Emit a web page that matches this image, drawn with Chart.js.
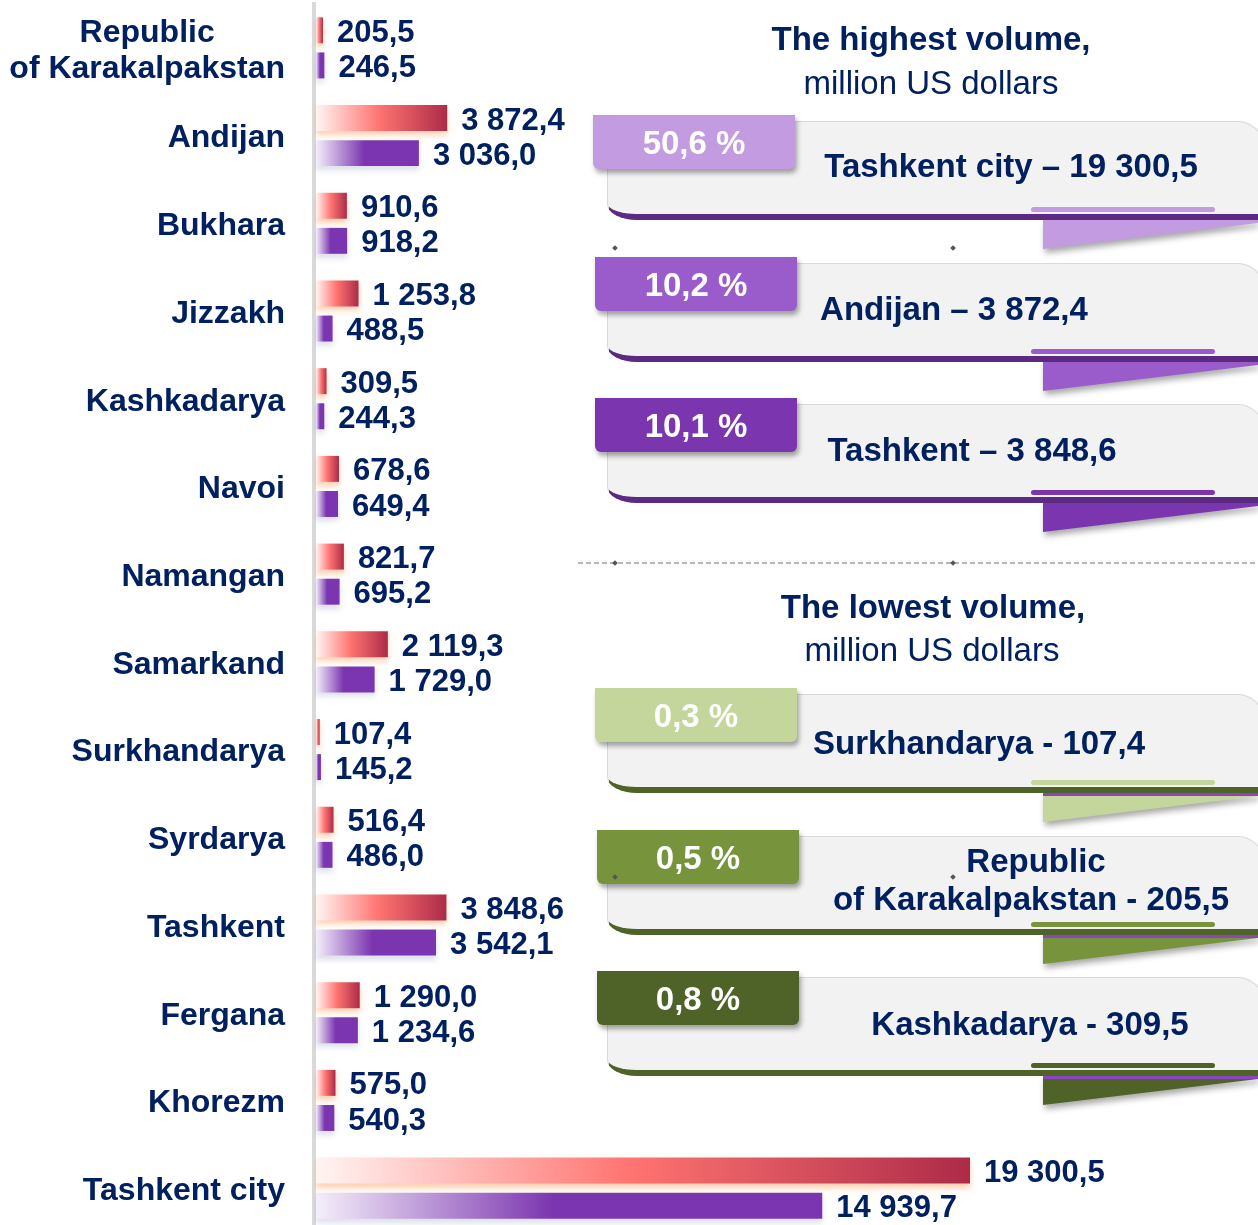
<!DOCTYPE html>
<html>
<head>
<meta charset="utf-8">
<script src="https://cdn.jsdelivr.net/npm/chart.js@4.4.1/dist/chart.umd.min.js"></script>
<style>
  html, body { margin: 0; padding: 0; background: #fff; overflow: hidden; }
  #wrap { position: relative; width: 1258px; height: 1232px; font-family: "Liberation Sans", Arial, sans-serif; }
  #regionChart { position: absolute; left: 0; top: 0; }
  .t { position: absolute; transform: translate(-50%, -50%); white-space: nowrap; line-height: 1;
       color: #002060; font-size: 33px; font-weight: bold; z-index: 5; }
  .t.reg { font-weight: normal; }
  .tab { position: absolute; width: 202px; height: 54px; border-radius: 0 0 6px 6px;
         box-shadow: 2px 4px 5px rgba(0,0,0,0.35); z-index: 4; color: #fff; font-size: 33px; font-weight: bold;
         display: flex; align-items: center; justify-content: center; line-height: 1; }
  .card { position: absolute; left: 607px; width: 655px; height: 92px; background: #f2f2f2;
          border: 1px solid #d9d9d9; border-bottom: 6px solid; border-radius: 0 26px 0 30px / 0 26px 0 16px; z-index: 2; }
  .pill { position: absolute; left: 1031px; width: 184px; height: 5px; border-radius: 3px; z-index: 3; }
  .rib { position: absolute; left: 1043px; width: 215px; height: 29px; z-index: 1;
         filter: drop-shadow(2px 4px 3px rgba(0,0,0,0.35)); }
  .rib div { width: 100%; height: 100%; clip-path: polygon(0 0, 100% 0, 100% 10%, 0 100%); }
  .dash { position: absolute; left: 578px; top: 562px; width: 680px; height: 2px;
          background: repeating-linear-gradient(to right, #b8b8b8 0 5px, transparent 5px 8px); }
  .mk { position: absolute; width: 4px; height: 4px; background: #555; transform: translate(-50%, -50%) rotate(45deg); z-index: 6; }
</style>
</head>
<body>
<div id="wrap">
  <canvas id="regionChart" width="1258" height="1232"></canvas>

  <div class="t" style="left:931px;top:38px">The highest volume,</div>
  <div class="t reg" style="left:931px;top:82px">million US dollars</div>

  <div class="card" style="top:121px;border-bottom-color:#5c2a82"></div>
  <div class="pill" style="top:207px;background:#c39be0"></div>
  <div class="rib" style="top:220px"><div style="background:#c39be0"></div></div>
  <div class="tab" style="left:593px;top:115px;background:#c39be0">50,6 %</div>
  <div class="t" style="left:1011px;top:165px">Tashkent city – 19 300,5</div>

  <div class="card" style="top:263px;border-bottom-color:#5c2a82"></div>
  <div class="pill" style="top:349px;background:#9b5ccb"></div>
  <div class="rib" style="top:362px"><div style="background:#9b5ccb"></div></div>
  <div class="tab" style="left:595px;top:257px;background:#9b5ccb">10,2 %</div>
  <div class="t" style="left:954px;top:308px">Andijan – 3 872,4</div>

  <div class="card" style="top:404px;border-bottom-color:#5c2a82"></div>
  <div class="pill" style="top:490px;background:#7b36af"></div>
  <div class="rib" style="top:503px"><div style="background:#7b36af"></div></div>
  <div class="tab" style="left:595px;top:398px;background:#7b36af">10,1 %</div>
  <div class="t" style="left:972px;top:449px">Tashkent – 3 848,6</div>

  <div class="dash"></div>

  <div class="t" style="left:933px;top:606px">The lowest volume,</div>
  <div class="t reg" style="left:932px;top:649px">million US dollars</div>

  <div class="card" style="top:694px;border-bottom-color:#4f6228"></div>
  <div class="pill" style="top:780px;background:#c4d69b"></div>
  <div class="rib" style="top:793px"><div style="background:linear-gradient(#8b45c2 0 3px, #c4d69b 3px)"></div></div>
  <div class="tab" style="left:595px;top:688px;background:#c4d69b">0,3 %</div>
  <div class="t" style="left:979px;top:742px">Surkhandarya - 107,4</div>

  <div class="card" style="top:836px;border-bottom-color:#4f6228"></div>
  <div class="pill" style="top:922px;background:#77933c"></div>
  <div class="rib" style="top:935px"><div style="background:linear-gradient(#8b45c2 0 3px, #77933c 3px)"></div></div>
  <div class="tab" style="left:597px;top:830px;background:#77933c">0,5 %</div>
  <div class="t" style="left:1036px;top:860px">Republic</div>
  <div class="t" style="left:1031px;top:898px">of Karakalpakstan - 205,5</div>

  <div class="card" style="top:977px;border-bottom-color:#4f6228"></div>
  <div class="pill" style="top:1063px;background:#4f6228"></div>
  <div class="rib" style="top:1076px"><div style="background:linear-gradient(#8b45c2 0 3px, #4f6228 3px)"></div></div>
  <div class="tab" style="left:597px;top:971px;background:#4f6228">0,8 %</div>
  <div class="t" style="left:1030px;top:1023px">Kashkadarya - 309,5</div>

  <div class="mk" style="left:615px;top:248px"></div>
  <div class="mk" style="left:953px;top:248px"></div>
  <div class="mk" style="left:615px;top:563px"></div>
  <div class="mk" style="left:953px;top:563px"></div>
  <div class="mk" style="left:615px;top:877px"></div>
  <div class="mk" style="left:953px;top:877px"></div>
</div>

<script>
const regions = [
  ["Republic", "of Karakalpakstan"], "Andijan", "Bukhara", "Jizzakh", "Kashkadarya", "Navoi",
  "Namangan", "Samarkand", "Surkhandarya", "Syrdarya", "Tashkent", "Fergana", "Khorezm", "Tashkent city"
];
const redValues = [205.5, 3872.4, 910.6, 1253.8, 309.5, 678.6, 821.7, 2119.3, 107.4, 516.4, 3848.6, 1290.0, 575.0, 19300.5];
const purpleValues = [246.5, 3036.0, 918.2, 488.5, 244.3, 649.4, 695.2, 1729.0, 145.2, 486.0, 3542.1, 1234.6, 540.3, 14939.7];

const navy = "#002060";
const labelFont = 'bold 31px "Liberation Sans", Arial, sans-serif';
const tickFont = 'bold 32px "Liberation Sans", Arial, sans-serif';

const redStops = [[0, "#fff5f3"], [0.48, "#ff7471"], [1, "#ad2b48"]];
const purpleStops = [[0, "#f4eefa"], [0.47, "#7b35b0"], [1, "#7b35b0"]];

function fmt(v) {
  let [int, dec] = v.toFixed(1).split(".");
  int = int.replace(/\B(?=(\d{3})+(?!\d))/g, " ");
  return int + "," + dec;
}

function barFill(context, stops) {
  const chart = context.chart;
  if (!chart.chartArea || context.type !== "data") return stops[1][1];
  const x = chart.scales.x;
  const x0 = x.getPixelForValue(0);
  const x1 = x.getPixelForValue(context.raw);
  const g = chart.ctx.createLinearGradient(x0, 0, x1, 0);
  stops.forEach(([o, c]) => g.addColorStop(o, c));
  return g;
}

const barShadow = {
  id: "barShadow",
  beforeDatasetDraw(chart, args) {
    const ctx = chart.ctx;
    ctx.save();
    ctx.shadowColor = args.index === 0 ? "rgba(248,170,110,0.55)" : "rgba(140,150,190,0.3)";
    ctx.shadowBlur = 6;
    ctx.shadowOffsetY = 4;
  },
  afterDatasetDraw(chart) {
    chart.ctx.restore();
  }
};

const valueLabels = {
  id: "valueLabels",
  afterDatasetsDraw(chart) {
    const ctx = chart.ctx;
    ctx.save();
    ctx.font = labelFont;
    ctx.fillStyle = navy;
    ctx.textBaseline = "middle";
    ctx.textAlign = "left";
    chart.data.datasets.forEach((ds, i) => {
      chart.getDatasetMeta(i).data.forEach((bar, j) => {
        ctx.fillText(fmt(ds.data[j]), bar.x + 14, bar.y + 3);
      });
    });
    ctx.restore();
  }
};

// category names: right aligned, the two-line one centred on itself
const regionTicks = {
  id: "regionTicks",
  afterDraw(chart) {
    const ctx = chart.ctx;
    const y = chart.scales.y;
    const right = y.right - 29;
    ctx.save();
    ctx.font = tickFont;
    ctx.fillStyle = navy;
    ctx.textBaseline = "middle";
    chart.data.labels.forEach((name, i) => {
      const yp = y.getPixelForTick(i) + 3;
      if (Array.isArray(name)) {
        const w = Math.max(...name.map(s => ctx.measureText(s).width));
        ctx.textAlign = "center";
        name.forEach((s, k) => ctx.fillText(s, right - w / 2, yp + (k - (name.length - 1) / 2) * 36));
      } else {
        ctx.textAlign = "right";
        ctx.fillText(name, right, yp);
      }
    });
    ctx.restore();
  }
};

new Chart(document.getElementById("regionChart"), {
  type: "bar",
  data: {
    labels: regions,
    datasets: [
      { data: redValues, backgroundColor: c => barFill(c, redStops), categoryPercentage: 0.8, barPercentage: 0.74 },
      { data: purpleValues, backgroundColor: c => barFill(c, purpleStops), categoryPercentage: 0.8, barPercentage: 0.74 }
    ]
  },
  options: {
    indexAxis: "y",
    responsive: false,
    animation: false,
    layout: { padding: { top: 4, right: 0, bottom: 0, left: 0 } },
    plugins: { legend: { display: false }, tooltip: { enabled: false } },
    scales: {
      x: { display: false, min: -60, max: 27800 },
      y: {
        grid: { display: false },
        border: { display: true, color: "#d9d9d9", width: 4 },
        ticks: { display: false },
        afterFit(scale) { scale.width = 314; }
      }
    }
  },
  plugins: [barShadow, valueLabels, regionTicks]
});
</script>
</body>
</html>
